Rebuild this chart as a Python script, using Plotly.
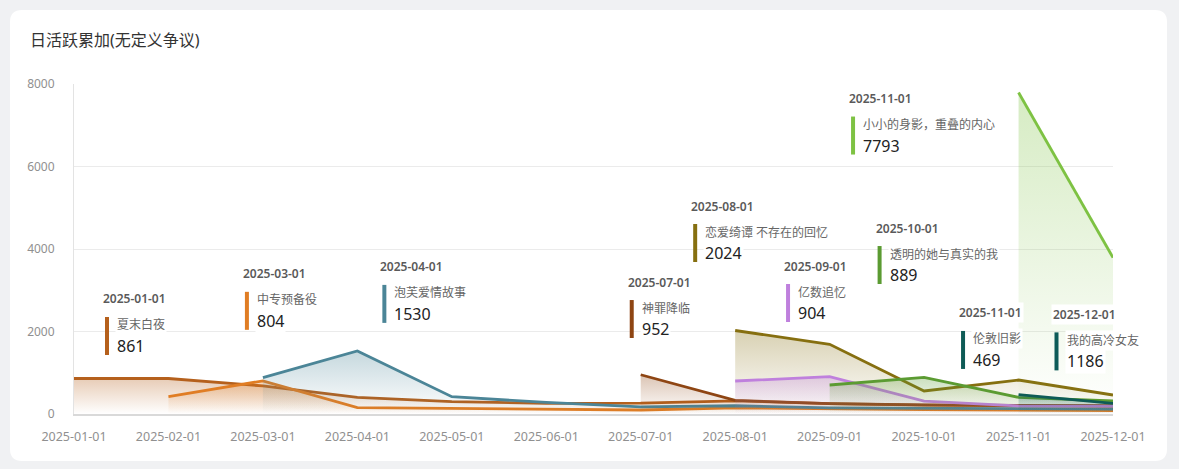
import plotly.graph_objects as go

months = ["2025-01-01", "2025-02-01", "2025-03-01", "2025-04-01", "2025-05-01", "2025-06-01",
          "2025-07-01", "2025-08-01", "2025-09-01", "2025-10-01", "2025-11-01", "2025-12-01"]
N = None
names = ["夏末白夜", "中专预备役", "泡芙爱情故事", "神罪降临", "恋爱绮谭 不存在的回忆",
         "亿数追忆", "透明的她与真实的我", "小小的身影，重叠的内心", "伦敦旧影", "我的高冷女友"]
s_xiamo = [861, 861, 680, 404, 300, 258, 262, 320, 250, 215, 200, 190]
s_zhongzhuan = [N, 420, 804, 153, 137, 113, 97, 150, 120, 105, 95, 85]
s_paofu = [N, N, 880, 1530, 420, 280, 175, 200, 150, 140, 130, 120]
s_shenzui = [N, N, N, N, N, N, 952, 330, 250, 220, 210, 200]
s_lianai = [N, N, N, N, N, N, N, 2024, 1690, 558, 824, 460]
s_yishu = [N, N, N, N, N, N, N, 800, 904, 310, 195, 190]
s_touming = [N, N, N, N, N, N, N, N, 703, 889, 404, 315]
s_xiaoxiao = [N, N, N, N, N, N, N, N, N, N, 7793, 3790]
s_lundun = [N, N, N, N, N, N, N, N, N, N, 469, 258]
s_gaoleng = [N, N, N, N, N, N, N, N, N, N, N, 1186]
series = [s_xiamo, s_zhongzhuan, s_paofu, s_shenzui, s_lianai, s_yishu, s_touming,
          s_xiaoxiao, s_lundun, s_gaoleng]
y_ticks = [0, 2000, 4000, 6000, 8000]

# styles
colors = ["#b5601c", "#e07d24", "#4b8597", "#8e4513", "#866f10", "#bf80dd", "#5b9b32",
          "#7ec243", "#0e5b56", "#0d5b58"]
# label group offsets (px) of bar top-left relative to peak point
label_offsets = [(31, -61.5), (-18, -89), (25, -66), (-11, -74.7), (-42, -106.5),
                 (-43.6, -92.7), (-46.5, -131.3), (-167.5, 24), (-57.5, -63.7), (-58.5, -32.7)]

FONT = "Noto Sans, Noto Sans CJK SC, sans-serif"


def rgba(h, a):
    h = h.lstrip("#")
    r, g, b = int(h[0:2], 16), int(h[2:4], 16), int(h[4:6], 16)
    return f"rgba({r},{g},{b},{a})"


fig = go.Figure()
shapes = []
annotations = []

# card background
L, R, T, B = 74, 1179 - 1113, 84, 469 - 414
pw, ph = 1179 - L - R, 469 - T - B
def px(x):
    return (x - L) / pw
def py(y):
    return (469 - B - y) / ph
cx0, cx1, cy0, cy1 = px(10), px(1167), py(461), py(10)
rx, ry = 12 / pw, 12 / ph
path = (f"M {cx0+rx},{cy1} L {cx1-rx},{cy1} Q {cx1},{cy1} {cx1},{cy1-ry} "
        f"L {cx1},{cy0+ry} Q {cx1},{cy0} {cx1-rx},{cy0} L {cx0+rx},{cy0} "
        f"Q {cx0},{cy0} {cx0},{cy0+ry} L {cx0},{cy1-ry} Q {cx0},{cy1} {cx0+rx},{cy1} Z")
shapes.append(dict(type="path", xref="paper", yref="paper", path=path,
                   fillcolor="white", line=dict(width=0), layer="below"))

for name, vals, col, off in zip(names, series, colors, label_offsets):
    vmax = max(v for v in vals if v is not None)
    fig.add_trace(go.Scatter(
        x=months, y=vals, mode="lines", name=name,
        line=dict(color=col, width=2.8),
        fill="tozeroy",
        fillgradient=dict(type="vertical", start=0, stop=vmax,
                          colorscale=[[0, rgba(col, 0.0)], [1, rgba(col, 0.32)]]),
        hoverinfo="skip", showlegend=False,
    ))
    i = vals.index(vmax)
    xm = months[i]
    ox, oy = off
    # bar
    shapes.append(dict(type="rect", xref="x", yref="y", xsizemode="pixel", ysizemode="pixel",
                       xanchor=xm, yanchor=vmax, x0=ox, x1=ox + 4, y0=-oy - 38, y1=-oy,
                       fillcolor=col, line=dict(width=0), layer="above"))
    common = dict(x=xm, y=vmax, xref="x", yref="y", xanchor="left", yanchor="middle",
                  showarrow=False, bgcolor="white", borderpad=1)
    annotations.append(dict(text=months[i], xshift=ox - 4, yshift=-(oy - 18),
                            font=dict(family=FONT, size=12, color="#5a5a5a", weight=600), **common))
    annotations.append(dict(text=name, xshift=ox + 10, yshift=-(oy + 8),
                            font=dict(family=FONT, size=12, color="#666666"), **common))
    annotations.append(dict(text=str(vmax), xshift=ox + 10, yshift=-(oy + 29),
                            font=dict(family=FONT, size=16, color="#222222"), **common))

fig.update_layout(
    width=1179, height=469,
    margin=dict(l=L, r=R, t=T, b=B, autoexpand=False),
    paper_bgcolor="#f0f1f3", plot_bgcolor="white",
    title=dict(text="日活跃累加(无定义争议)", x=30 / 1179, xanchor="left",
               y=1 - 40 / 469, yanchor="middle", xref="container", yref="container",
               font=dict(family=FONT, size=16, color="#333333")),
    xaxis=dict(type="category", categoryorder="array", categoryarray=months,
               range=[0, len(months) - 1], showgrid=False, showline=True,
               linecolor="#d9d9d9", linewidth=2, ticks="", ticklabelstandoff=10,
               tickfont=dict(family=FONT, size=12.5, color="#909090"), zeroline=False),
    yaxis=dict(range=[0, 8000], tickvals=y_ticks, showgrid=True, gridcolor="#ebebeb",
               gridwidth=1, showline=True, linecolor="#e3e3e3", linewidth=1,
               zeroline=False, ticks="", ticklabelstandoff=16,
               tickfont=dict(family=FONT, size=12, color="#909090")),
    shapes=shapes, annotations=annotations, hovermode=False,
)

fig.write_html("out.html")
